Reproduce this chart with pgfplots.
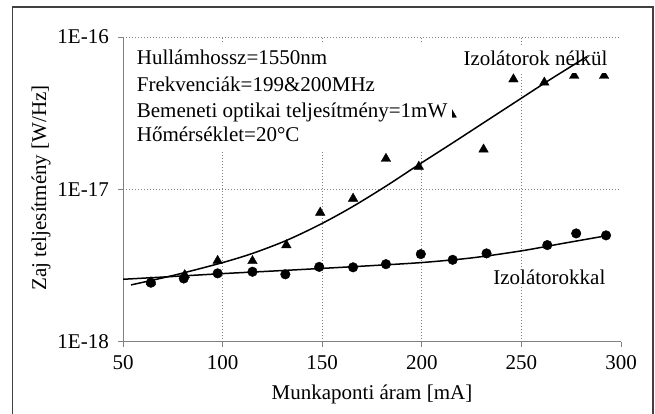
\documentclass[border=0pt]{standalone}
\usepackage{fontspec}
\setmainfont{Liberation Serif}
\usepackage{pgfplots}
\pgfplotsset{compat=1.18}
\begin{document}
\begin{tikzpicture}[font=\fontsize{21}{25}\selectfont]
\useasboundingbox (0,0) rectangle (655pt,414pt);
\fill[white] (0,0) rectangle (655pt,414pt);
\begin{axis}[ymode=log,
  at={(123pt,72.3pt)}, anchor=south west, scale only axis,
  width=498pt, height=304.7pt,
  xmin=50, xmax=300, ymin=1e-18, ymax=1e-16,
  axis x line*=bottom, axis y line*=left,
  axis line style={black!50, line width=1pt},
  xtick={50,100,150,200,250,300}, xticklabels={50,100,150,200,250,300},
  ytick={1e-18,1e-17,1e-16}, yticklabels={1E-18,1E-17,1E-16},
  minor xtick={100,150,200,250}, xminorgrids=true, ymajorgrids=true,
  minor tick length=0pt, major tick length=5pt, tick align=outside,
  tick style={black!50, line width=0.8pt},
  major grid style={black!50, line width=0.8pt, dash pattern=on 1pt off 2pt},
  minor grid style={black!50, line width=0.8pt, dash pattern=on 1pt off 2pt},
  yticklabel style={inner sep=0pt, xshift=-9pt},
  xticklabel style={inner sep=0pt, yshift=-9pt},
  xlabel={Munkaponti áram [mA]}, ylabel={Zaj teljesítmény [W/Hz]},
  xlabel style={at={(axis description cs:0.5,-0.191)}, anchor=base, inner sep=0pt},
  ylabel style={at={(axis description cs:-0.1546,0.505)}, anchor=base, inner sep=0pt},
  clip=false]
\addplot[only marks, mark=triangle*, mark size=5.5pt, black] coordinates {
(64,2.46e-18) (81,2.74e-18) (97.5,3.40e-18) (115,3.39e-18) (132,4.31e-18)
(149,7.04e-18) (165.5,8.7e-18) (182,1.59e-17) (198.5,1.41e-17) (215,3.1e-17)
(231,1.83e-17) (246,5.28e-17) (261.5,5.03e-17) (276.5,5.57e-17) (291.5,5.57e-17)};
\addplot[only marks, mark=*, mark size=4.8pt, black] coordinates {
(64,2.44e-18) (80.5,2.60e-18) (97.5,2.81e-18) (115,2.88e-18) (131.5,2.77e-18)
(148.5,3.10e-18) (165.5,3.08e-18) (182,3.23e-18) (199.5,3.76e-18) (215.5,3.45e-18)
(232.5,3.80e-18) (263,4.31e-18) (277.5,5.14e-18) (292.5,4.99e-18)};
\end{axis}
\fill[white] (130pt,264pt) rectangle (452pt,370pt);
\node[anchor=base west, inner sep=0pt] at (136.7pt,349pt) {Hullámhossz=1550nm};
\node[anchor=base west, inner sep=0pt] at (136.7pt,322.5pt) {Frekvenciák=199\&200MHz};
\node[anchor=base west, inner sep=0pt] at (136.7pt,296.7pt) {Bemeneti optikai teljesítmény=1mW};
\node[anchor=base west, inner sep=0pt] at (136.7pt,272.3pt) {Hőmérséklet=20°C};
\fill[white] (460pt,341pt) rectangle (610pt,369pt);
\node[anchor=base west, inner sep=0pt] at (463.3pt,348pt) {Izolátorok nélkül};
\node[anchor=base west, inner sep=1.5pt, fill=white] at (491.7pt,129pt) {Izolátorokkal};
\begin{axis}[ymode=log,
  at={(123pt,72.3pt)}, anchor=south west, scale only axis,
  width=498pt, height=304.7pt,
  xmin=50, xmax=300, ymin=1e-18, ymax=1e-16, hide axis]
\addplot[black, line width=1.5pt, smooth] coordinates {
(54,2.36e-18) (75,2.72e-18) (99,3.28e-18) (115,3.80e-18) (132,4.62e-18)
(149,5.89e-18) (165,7.67e-18) (182,1.05e-17) (198,1.44e-17) (215,2.00e-17)
(232,2.79e-17) (250,3.97e-17) (265,5.32e-17) (283,7.45e-17)};
\addplot[black, line width=1.5pt, smooth] coordinates {
(50,2.57e-18) (75,2.68e-18) (100,2.80e-18) (125,2.91e-18) (150,3.03e-18)
(175,3.16e-18) (200,3.31e-18) (225,3.55e-18) (250,3.95e-18) (270,4.40e-18)
(293,4.97e-18)};
\end{axis}
\draw[black!75, line width=1.3pt] (12.7pt,-2pt) -- (12.7pt,407pt) -- (653pt,407pt) -- (653pt,-2pt);
\end{tikzpicture}
\end{document}
